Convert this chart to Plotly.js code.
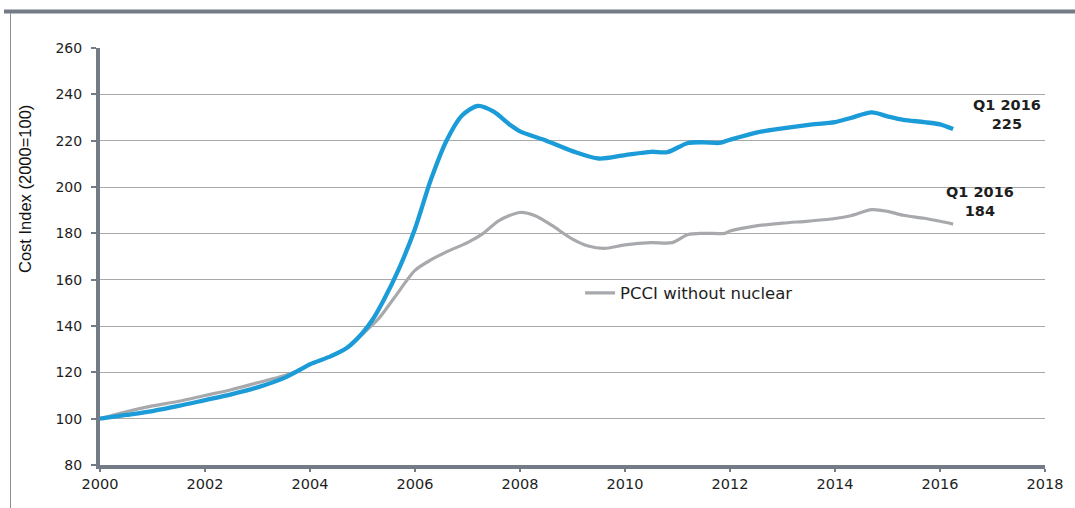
<!DOCTYPE html>
<html>
<head>
<meta charset="utf-8">
<script src="https://cdn.plot.ly/plotly-3.0.1.min.js"></script>
<style>
  html, body { margin: 0; padding: 0; background: #ffffff; }
  #chart { width: 1075px; height: 508px; }
</style>
</head>
<body>
<div id="chart"></div>
<script>
// Power Capital Cost Index, quarterly readings (2000 = 100)
const years = [2000, 2000.5, 2001, 2001.5, 2002, 2002.5, 2003, 2003.5, 2003.8, 2004,
  2004.4, 2004.7, 2005, 2005.2, 2005.4, 2005.7, 2006, 2006.3, 2006.6, 2006.9,
  2007.2, 2007.5, 2007.8, 2008, 2008.5, 2009, 2009.5, 2010, 2010.5, 2010.8,
  2011.2, 2011.5, 2011.8, 2012, 2012.5, 2013, 2013.5, 2014, 2014.3, 2014.7,
  2015, 2015.3, 2015.7, 2016, 2016.25];

const pcci = [100, 101.6, 103.3, 105.5, 108, 110.5, 113.5, 117.5, 121, 123.5,
  127, 130.5, 137, 143, 151, 165, 182, 203, 220, 231,
  235, 232.5, 227, 224, 220, 215.5, 212.3, 213.8, 215.2, 215,
  219, 219.3, 219, 220.4, 223.5, 225.3, 226.8, 228, 229.8, 232.2,
  230.5, 229, 228, 227, 225];

const yearsNoNuc = [2000, 2000.5, 2001, 2001.5, 2002, 2002.5, 2003, 2003.5, 2003.8, 2004,
  2004.4, 2004.7, 2005, 2005.3, 2005.6, 2006, 2006.3, 2006.6, 2007, 2007.3,
  2007.6, 2008, 2008.3, 2008.6, 2009, 2009.3, 2009.6, 2010, 2010.5, 2010.9,
  2011.2, 2011.5, 2011.9, 2012, 2012.5, 2013, 2013.5, 2014, 2014.3, 2014.7,
  2015, 2015.3, 2015.7, 2016, 2016.25];

const pcciNoNuclear = [100, 103, 105.5, 107.5, 110, 112.5, 115.5, 118.5, 121, 123.5,
  127, 130.5, 136.5, 143, 152, 164, 168.5, 172, 176, 180,
  185.5, 189, 187.5, 183.5, 177.5, 174.5, 173.5, 175, 176, 176,
  179.5, 180, 180, 181, 183.2, 184.4, 185.3, 186.4, 187.6, 190.2,
  189.5, 187.8, 186.5, 185.2, 184];

const legendName = 'PCCI without nuclear';
const yTitle = 'Cost Index (2000=100)';
const endLabel = 'Q1 2016';
const yTickVals = [80, 100, 120, 140, 160, 180, 200, 220, 240, 260];
const xTickVals = [2000, 2002, 2004, 2006, 2008, 2010, 2012, 2014, 2016, 2018];

const axisGrey = '#737b86';
const textColor = '#1e1e1e';

const traces = [
  {
    x: yearsNoNuc, y: pcciNoNuclear, name: legendName, type: 'scatter', mode: 'lines',
    line: { color: '#a7a9ac', width: 3.2, shape: 'spline', smoothing: 0.8 },
    showlegend: true
  },
  {
    x: years, y: pcci, name: 'PCCI', type: 'scatter', mode: 'lines',
    line: { color: '#1b9bd7', width: 4.3, shape: 'spline', smoothing: 0.8 },
    showlegend: false
  }
];

const lastBlue = pcci[pcci.length - 1];
const lastGrey = pcciNoNuclear[pcciNoNuclear.length - 1];

const layout = {
  width: 1075, height: 508,
  margin: { l: 100, r: 30, t: 48, b: 43 },
  paper_bgcolor: '#ffffff', plot_bgcolor: '#ffffff',
  font: { family: 'DejaVu Sans, Liberation Sans, Arial, sans-serif', color: textColor },
  xaxis: {
    range: [2000, 2018], tickvals: xTickVals, ticktext: xTickVals.map(String),
    showgrid: false, zeroline: false,
    showline: true, linecolor: axisGrey, linewidth: 4,
    ticks: 'outside', ticklen: 3, tickwidth: 2, tickcolor: axisGrey,
    tickfont: { size: 14.5, color: textColor }
  },
  yaxis: {
    range: [80, 260], tickvals: yTickVals, ticktext: yTickVals.map(String),
    showgrid: true, gridcolor: '#a9a9a9', gridwidth: 1,
    zeroline: false, showline: true, linecolor: axisGrey, linewidth: 4,
    ticks: 'outside', ticklen: 5, tickwidth: 2, tickcolor: axisGrey,
    ticklabelstandoff: 6,
    tickfont: { size: 14, color: textColor }
  },
  legend: {
    x: 0.508, y: 0.412, xanchor: 'left', yanchor: 'middle',
    bgcolor: 'rgba(0,0,0,0)', borderwidth: 0,
    font: { size: 16.5, color: textColor }
  },
  annotations: [
    {
      // vertical axis caption, set beside the upper half of the scale
      x: (25 - 100) / 945, y: (465 - 189) / 417, xref: 'paper', yref: 'paper',
      xanchor: 'center', yanchor: 'middle',
      showarrow: false, textangle: -90, text: yTitle,
      font: { family: 'Liberation Sans, Arial, sans-serif', size: 16.5, color: '#111111' }
    },
    {
      x: 2017.28, y: 231.4, xref: 'x', yref: 'y', showarrow: false,
      text: '<b>' + endLabel + '<br>' + lastBlue + '</b>',
      font: { size: 14.5, color: textColor }, align: 'center'
    },
    {
      x: 2016.76, y: 193.6, xref: 'x', yref: 'y', showarrow: false,
      text: '<b>' + endLabel + '<br>' + lastGrey + '</b>',
      font: { size: 14.5, color: textColor }, align: 'center'
    }
  ],
  shapes: [
    // page frame: heavy rule along the top, thin rule down the left
    { type: 'line', xref: 'paper', yref: 'paper',
      x0: (4 - 100) / 945, x1: (1075 - 100) / 945,
      y0: (465 - 11.5) / 417, y1: (465 - 11.5) / 417,
      line: { color: axisGrey, width: 4 } },
    { type: 'line', xref: 'paper', yref: 'paper',
      x0: (10.5 - 100) / 945, x1: (10.5 - 100) / 945,
      y0: (465 - 13) / 417, y1: (465 - 508) / 417,
      line: { color: '#8a8f96', width: 1 } }
  ]
};

Plotly.newPlot('chart', traces, layout, { displayModeBar: false, staticPlot: true });
</script>
</body>
</html>
